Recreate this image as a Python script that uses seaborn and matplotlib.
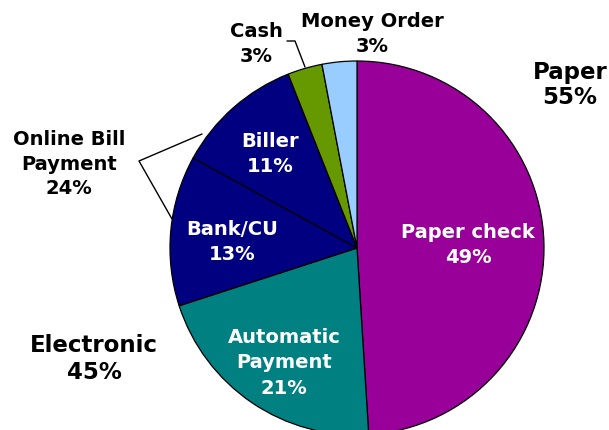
import seaborn as sns
import matplotlib.pyplot as plt

# Bill payment methods, clockwise from the top
methods = ["Paper check", "Automatic\nPayment", "Bank/CU", "Biller", "Cash", "Money Order"]
shares = [49, 21, 13, 11, 3, 3]
colors = ["#990099", "#008080", "#000080", "#000080", "#669900", "#99CCFF"]

group_labels = ["Paper", "Electronic", "Online Bill\nPayment"]
group_shares = [55, 45, 24]

sns.set_theme(style="white")
plt.rcParams['font.family'] = ['DejaVu Sans']

W, H = 609, 431
fig = plt.figure(figsize=(W / 100, H / 100), dpi=100)
ax = fig.add_axes([0, 0, 1, 1])


def px(x, y):
    # pixel coords (origin top-left) -> data coords
    return x, H - y


cx, cy = px(357, 249)
ax.pie(shares, colors=colors, startangle=90, counterclock=False,
       center=(cx, cy), radius=187,
       wedgeprops=dict(edgecolor="black", linewidth=0.9))

ax.set_xlim(0, W)
ax.set_ylim(0, H)
ax.set_aspect("equal")
ax.axis("off")

# labels inside the wedges
inner_pos = {"Paper check": (468, 245), "Automatic\nPayment": (284, 363),
             "Bank/CU": (232, 242), "Biller": (270, 154)}
for name, val in zip(methods, shares):
    if name in inner_pos:
        x, y = px(*inner_pos[name])
        ax.text(x, y, f"{name}\n{val}%", color="white", fontsize=14,
                fontweight="bold", ha="center", va="center", linespacing=1.45)

# small outer labels
outer_pos = {"Cash": (256, 44), "Money Order": (372, 34)}
for name, val in zip(methods, shares):
    if name in outer_pos:
        x, y = px(*outer_pos[name])
        ax.text(x, y, f"{name}\n{val}%", color="black", fontsize=14,
                fontweight="bold", ha="center", va="center", linespacing=1.45)

# group labels
group_pos = [(570, 85, 16.5, 1.15), (94, 359, 16.5, 1.2), (69, 164, 14, 1.35)]
for name, val, (x, y, fs, ls) in zip(group_labels, group_shares, group_pos):
    x, y = px(x, y)
    ax.text(x, y, f"{name}\n{val}%", color="black", fontsize=fs,
            fontweight="bold", ha="center", va="center", linespacing=ls)

# leader lines
bx, by = zip(*[px(202, 135), px(139, 162), px(172, 220)])
ax.plot(bx, by, color="black", linewidth=1)
lx, ly = zip(*[px(287, 42), px(295, 42), px(305, 68)])
ax.plot(lx, ly, color="black", linewidth=1)

fig.savefig("out.png", dpi=100)
